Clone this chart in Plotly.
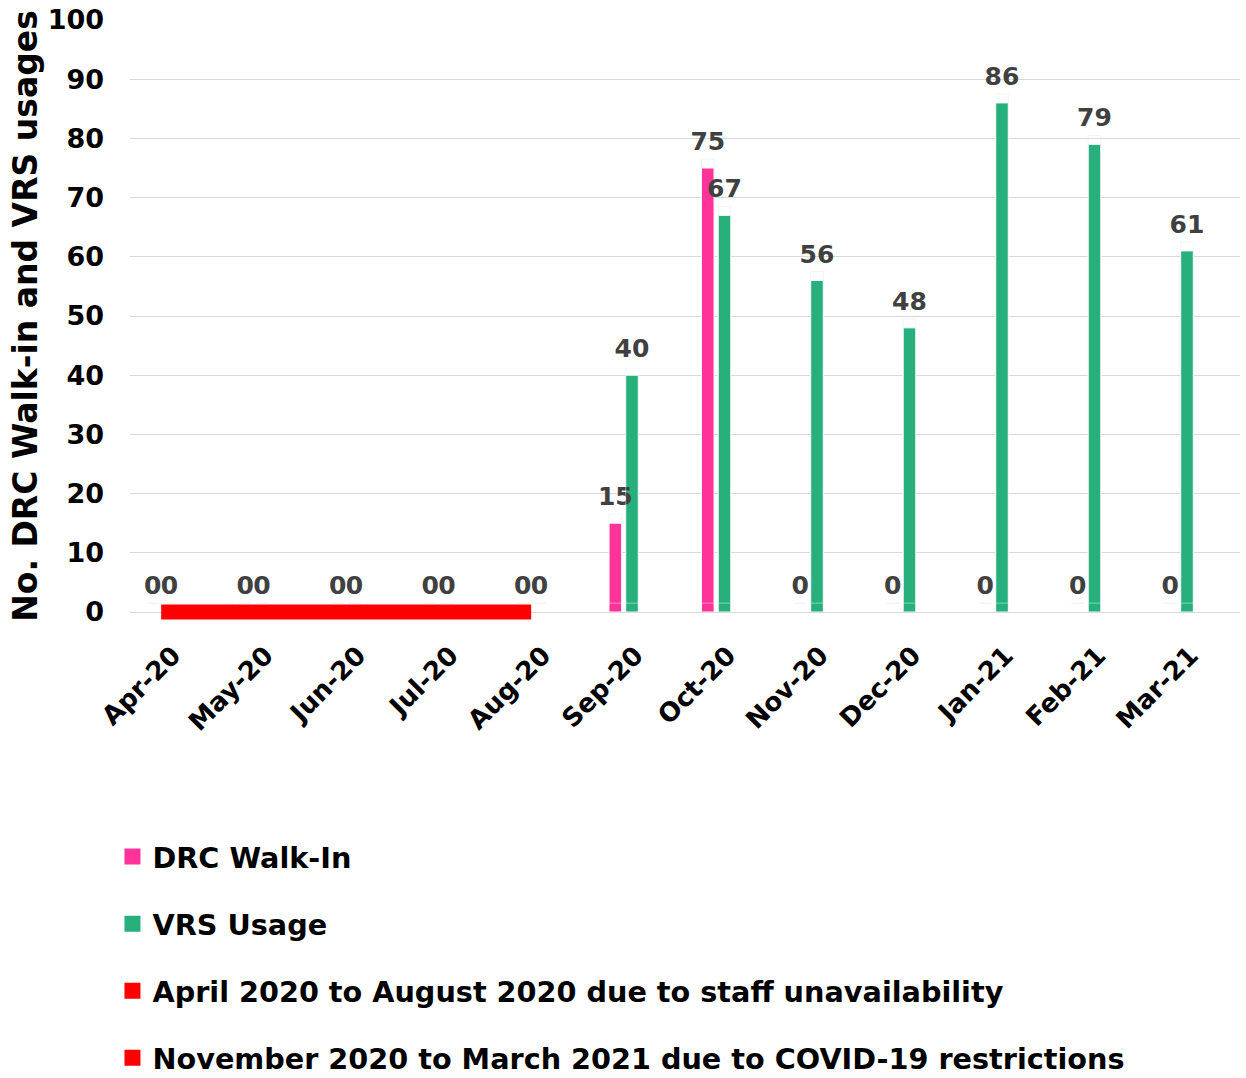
import plotly.graph_objects as go

months = ["Apr-20", "May-20", "Jun-20", "Jul-20", "Aug-20", "Sep-20",
          "Oct-20", "Nov-20", "Dec-20", "Jan-21", "Feb-21", "Mar-21"]
drc_walk_in = [0, 0, 0, 0, 0, 15, 75, 0, 0, 0, 0, 0]
vrs_usage = [0, 0, 0, 0, 0, 40, 67, 56, 48, 86, 79, 61]

# red marker for the staff-unavailability period (Apr-20 .. Aug-20)
staff_months = months[:5]
staff_values = [0, 0, 0, 0, 0]

PINK = "#ff3399"
GREEN = "#27b07c"
RED = "#ff0000"
LABEL = "#404040"
FONT = "DejaVu Sans"

BAR_W = 0.137
OFF_DRC = -0.159
OFF_VRS = 0.0216

# plot area: 0 sits at y=612px, 100 at y=20px; extra room below 0 so the
# thick baseline line is not clipped
PAD_BELOW = 10
PLOT_H = 1078 - 20 - (466 - PAD_BELOW)
Y_DOM0 = PAD_BELOW / PLOT_H
y3_span = 100 * PLOT_H / (PLOT_H - PAD_BELOW)
y3_low = -PAD_BELOW / PLOT_H * y3_span
Y3_RANGE = [y3_low, y3_low + y3_span]

fig = go.Figure()

# bars (no text)
for vals, color, off in [(drc_walk_in, PINK, OFF_DRC), (vrs_usage, GREEN, OFF_VRS)]:
    fig.add_trace(go.Bar(
        x=months, y=vals, width=BAR_W, offset=off,
        marker=dict(color=color, line=dict(color="white", width=1)),
        showlegend=False, hoverinfo="skip",
    ))

# thick red line along the baseline (on its own taller y axis so it isn't clipped)
fig.add_trace(go.Scatter(
    x=staff_months, y=staff_values, mode="lines", yaxis="y3",
    line=dict(color=RED, width=15), showlegend=False,
    cliponaxis=False, hoverinfo="skip",
))

# data labels drawn on top of everything (transparent bars on a slightly lifted overlay axis)
for vals, off in [(drc_walk_in, OFF_DRC), (vrs_usage, OFF_VRS)]:
    fig.add_trace(go.Bar(
        x=months, y=vals, width=BAR_W, offset=off, yaxis="y2",
        marker=dict(color="rgba(0,0,0,0)"),
        text=vals, textposition="outside", constraintext="none",
        textfont=dict(family=FONT, size=25, color=LABEL, weight="bold"),
        cliponaxis=False, showlegend=False, hoverinfo="skip",
    ))

# legend entries
legend_items = [
    ("DRC Walk-In", PINK),
    ("VRS Usage", GREEN),
    ("April 2020 to August 2020 due to staff unavailability", RED),
    ("November 2020 to March 2021 due to COVID-19 restrictions", RED),
]
for i, (name, color) in enumerate(legend_items):
    fig.add_trace(go.Scatter(
        x=[None], y=[None], mode="markers", name=name, legendgroup=str(i),
        marker=dict(color=color, symbol="square", size=16),
    ))

fig.update_layout(
    width=1246, height=1078,
    paper_bgcolor="white", plot_bgcolor="rgba(0,0,0,0)",
    barmode="overlay",
    margin=dict(l=130, r=6, t=20, b=466 - PAD_BELOW),
    font=dict(family=FONT, color="black"),
    showlegend=True,
    legend=dict(
        xref="paper", yref="container",
        x=-0.0158, y=0.2287, xanchor="left", yanchor="top",
        orientation="v", tracegroupgap=26.7, itemwidth=30,
        font=dict(family=FONT, size=28.7, color="black", weight="bold"),
        bgcolor="rgba(0,0,0,0)",
    ),
)

fig.update_xaxes(
    type="category", range=[-0.337, 11.663], automargin=False,
    tickangle=-45, showgrid=False, showline=False, ticks="",
    ticklabelstandoff=22, ticklabelshift=12,
    tickfont=dict(family=FONT, size=26, color="black", weight="bold"),
)
fig.update_layout(yaxis=dict(
    domain=[Y_DOM0, 1],
    range=[0, 100], dtick=10, automargin=False,
    showgrid=True, gridcolor="#d9d9d9", gridwidth=1,
    zeroline=True, zerolinecolor="#d9d9d9", zerolinewidth=1,
    showline=False, ticks="", ticklabelstandoff=25,
    tickfont=dict(family=FONT, size=27, color="black", weight="bold"),
    title=dict(text="No. DRC Walk-in and VRS usages", standoff=0,
               font=dict(family=FONT, size=33, color="black", weight="bold")),
))
fig.update_layout(
    yaxis2=dict(overlaying="y", range=[-1.5, 98.5], visible=False, automargin=False),
    yaxis3=dict(domain=[0, 1], anchor="x", range=Y3_RANGE, visible=False,
                automargin=False, showgrid=False, zeroline=False),
)

# drop the default page margin so the figure sits at the window's corner
fig.write_html("out.html", config={"displayModeBar": False},
               post_script="document.body.style.margin = '0';")
